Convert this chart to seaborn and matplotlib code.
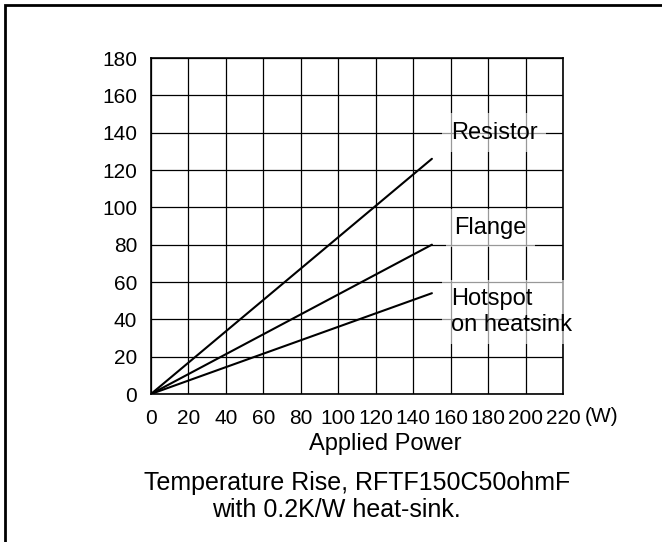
"""Temperature rise vs applied power for RFTF150C50ohmF on a 0.2K/W heat-sink."""

import matplotlib

matplotlib.use("Agg")

import matplotlib.patches as mpatches
import matplotlib.pyplot as plt
import pandas as pd
import seaborn as sns

power_w = [0, 150]
resistor_rise = [0, 126]
flange_rise = [0, 80]
hotspot_rise = [0, 54]

series_names = ["Resistor", "Flange", "Hotspot\non heatsink"]
x_ticks = list(range(0, 221, 20))
y_ticks = list(range(0, 181, 20))

label_pos = {
    "Resistor": (160, 140),
    "Flange": (162, 89),
    "Hotspot\non heatsink": (160, 44),
}


def build_frame() -> pd.DataFrame:
    rows = []
    for name, values in zip(series_names, [resistor_rise, flange_rise, hotspot_rise]):
        for p, t in zip(power_w, values):
            rows.append({"power": p, "rise": t, "series": name})
    return pd.DataFrame(rows)


def main() -> None:
    sns.set_theme(style="white")
    plt.rcParams["font.family"] = ["Liberation Sans", "DejaVu Sans"]

    df = build_frame()

    fig = plt.figure(figsize=(6.62, 5.42), dpi=100)
    ax = fig.add_axes([151 / 662, 1 - 394 / 542, 412 / 662, 336 / 542])

    sns.lineplot(
        data=df,
        x="power",
        y="rise",
        units="series",
        estimator=None,
        color="black",
        linewidth=1.5,
        legend=False,
        ax=ax,
    )

    ax.set_xlim(x_ticks[0], x_ticks[-1])
    ax.set_ylim(y_ticks[0], y_ticks[-1])
    ax.set_xticks(x_ticks)
    ax.set_yticks(y_ticks)
    ax.tick_params(axis="both", length=0, labelsize=15, colors="black")
    ax.tick_params(axis="x", pad=11)
    ax.tick_params(axis="y", pad=10)
    ax.grid(True, color="black", linewidth=0.9)
    ax.set_axisbelow(True)
    for spine in ax.spines.values():
        spine.set_color("black")
        spine.set_linewidth(1.2)

    ax.set_ylabel("")
    ax.set_xlabel("Applied Power", fontsize=17, color="black")
    ax.xaxis.label.set_va("center")
    ax.xaxis.set_label_coords((385 - 151) / 412, (394 - 444) / 336)

    # unit label sits just right of the last tick label
    ax.text(1.052, -0.068, "(W)", transform=ax.transAxes, fontsize=15,
            ha="left", va="center", color="black")

    for name in series_names:
        x, y = label_pos[name]
        ax.text(x, y, name, fontsize=17, ha="left", va="center", color="black",
                bbox=dict(boxstyle="square,pad=0.35", facecolor="white",
                          edgecolor="none", alpha=0.6))

    fig.text(357 / 662, 1 - 483 / 542, "Temperature Rise, RFTF150C50ohmF",
             fontsize=18, ha="center", va="center", color="black")
    fig.text(336 / 662, 1 - 510 / 542, "with 0.2K/W heat-sink.",
             fontsize=18, ha="center", va="center", color="black")

    frame = mpatches.Rectangle(
        (5 / 662, -0.05), 1.05, 1 - 5 / 542 + 0.05,
        transform=fig.transFigure, fill=False, edgecolor="black",
        linewidth=2, clip_on=False,
    )
    fig.patches.append(frame)

    fig.savefig("out.png", dpi=100)
    plt.close(fig)


if __name__ == "__main__":
    main()
